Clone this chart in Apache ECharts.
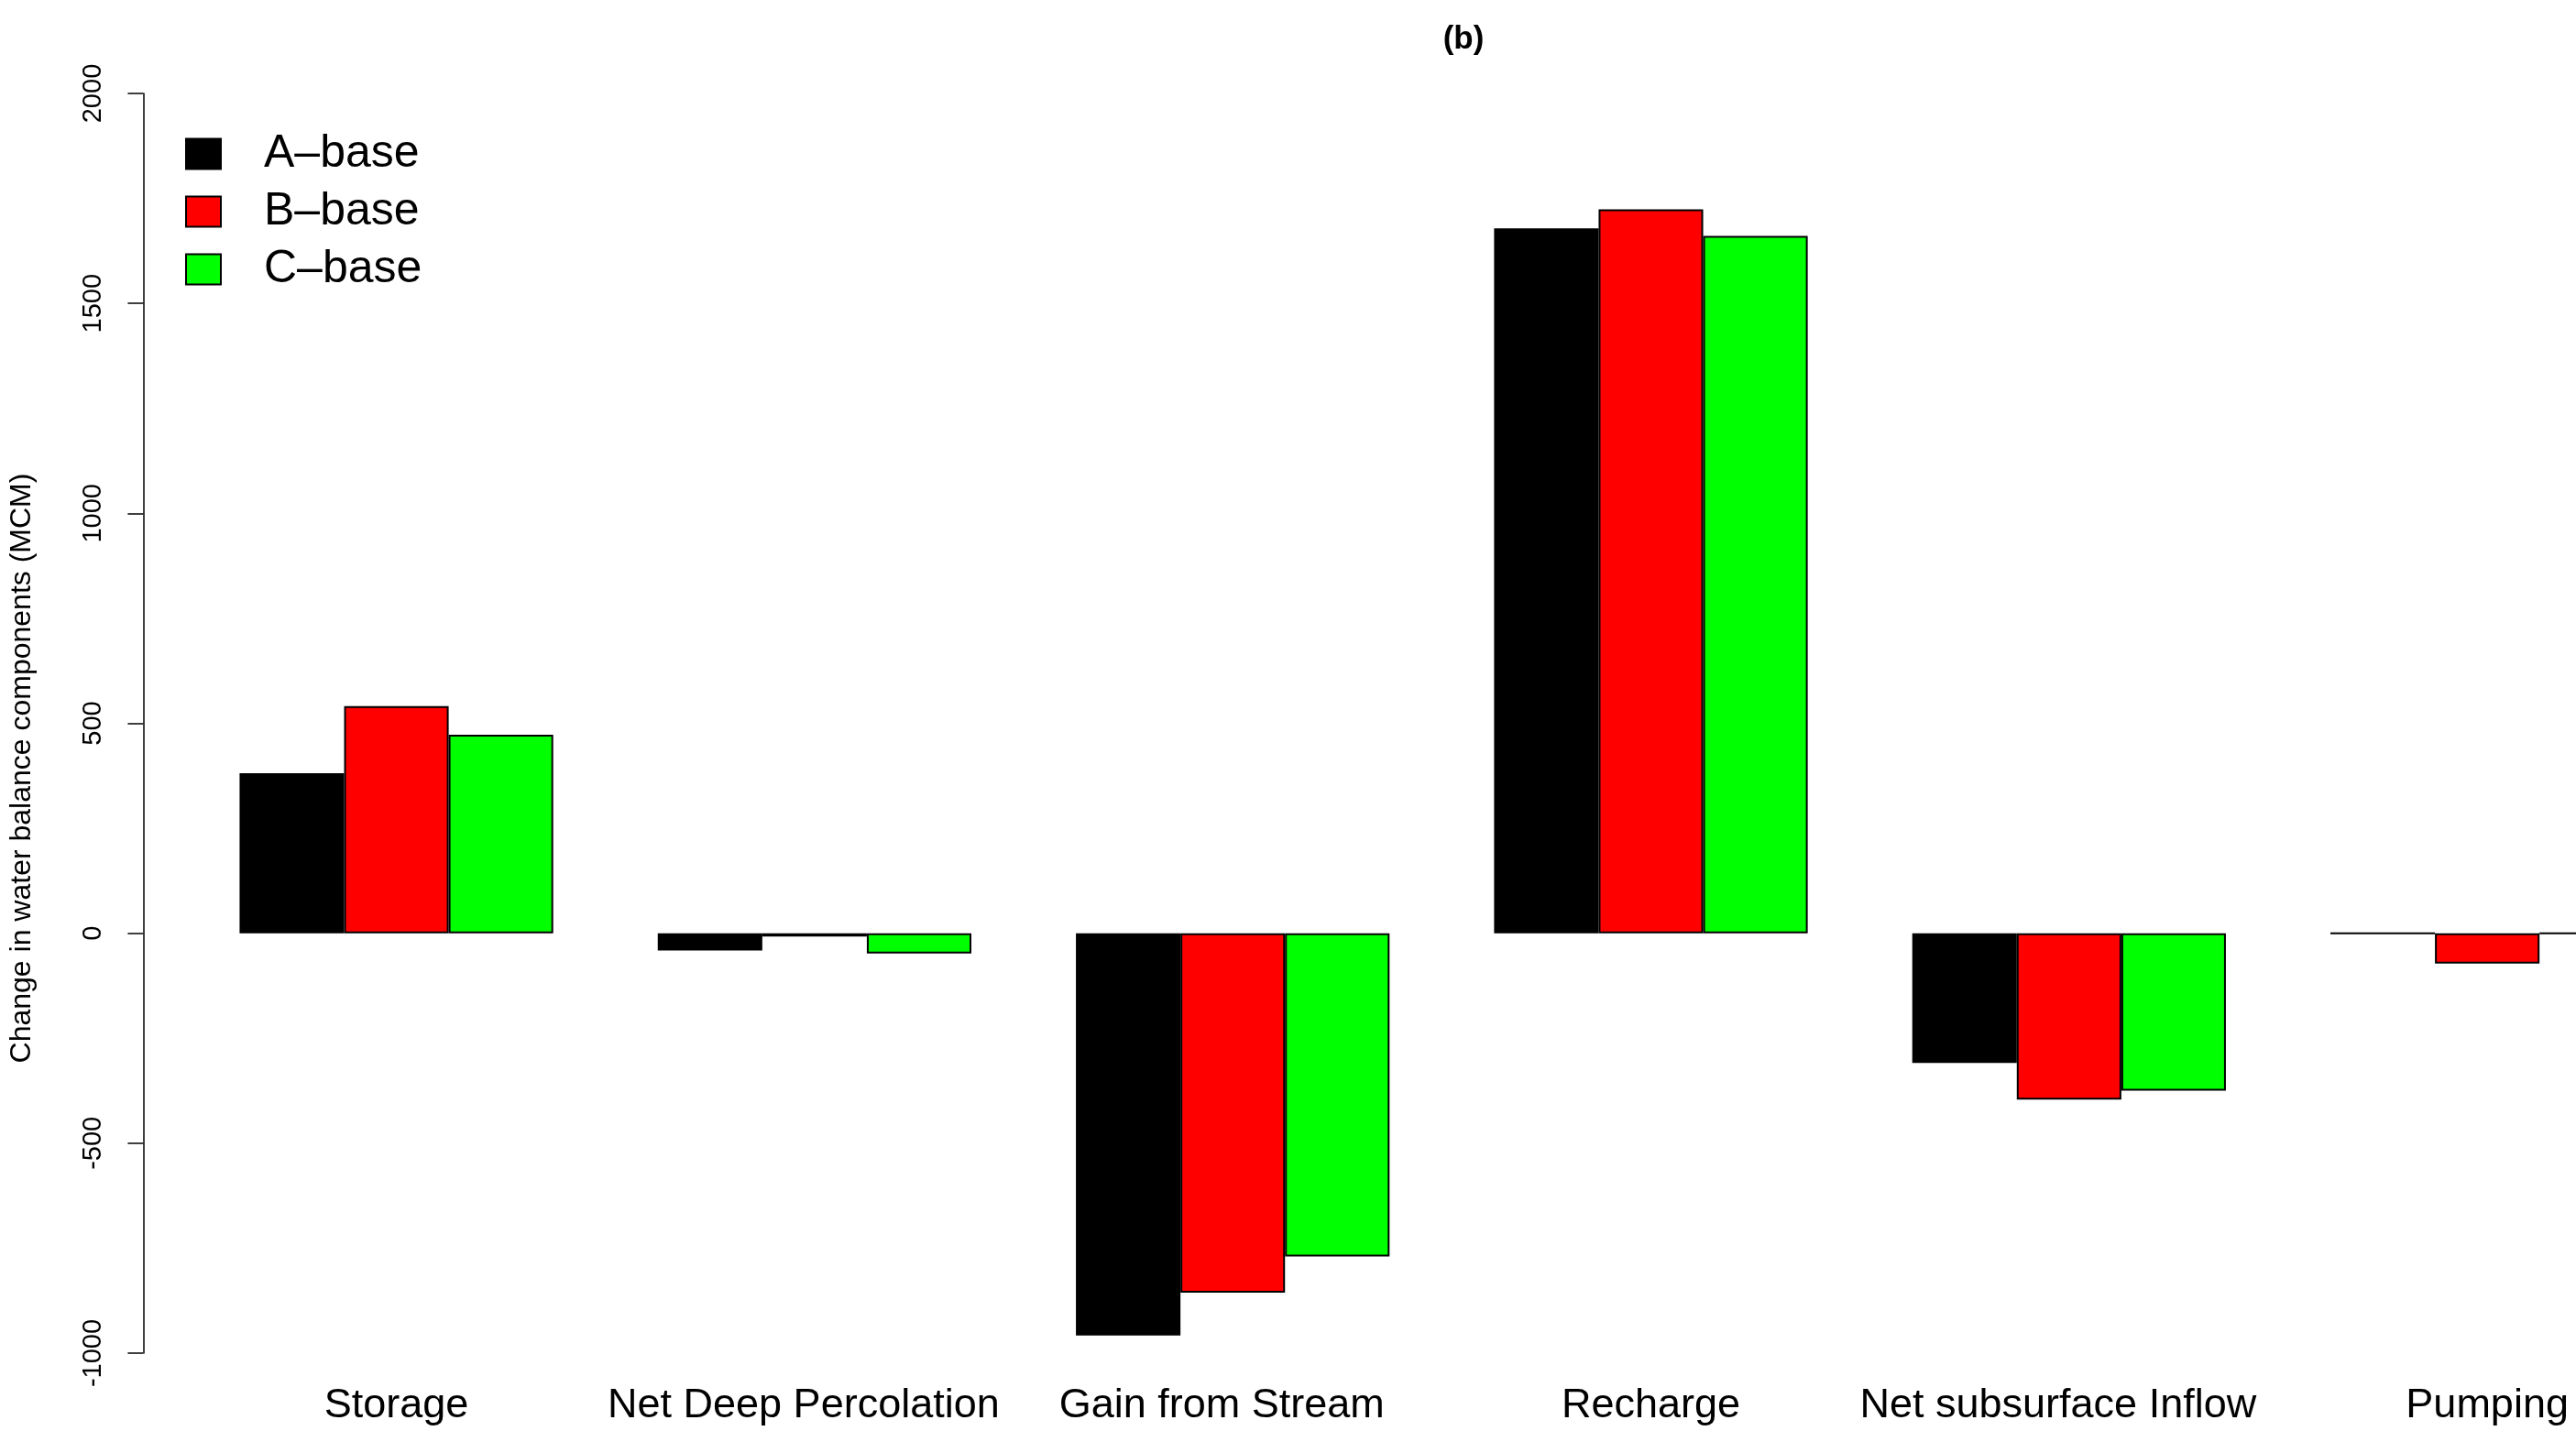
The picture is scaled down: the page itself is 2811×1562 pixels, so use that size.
<!DOCTYPE html>
<html>
<head>
<meta charset="utf-8">
<title>Change in water balance components</title>
<script src="https://cdn.jsdelivr.net/npm/echarts@6/dist/echarts.min.js"></script>
<style>
  html, body { margin: 0; padding: 0; background: #ffffff; }
  #chart { width: 2811px; height: 1562px; }
</style>
</head>
<body>
<div id="chart"></div>
<script>
// Water balance components (MCM), change relative to the base scenario
const categories = ['Storage', 'Net Deep Percolation', 'Gain from Stream', 'Recharge', 'Net subsurface Inflow', 'Pumping'];
const seriesNames = ['A\u2013base', 'B\u2013base', 'C\u2013base'];
const aBase = [381, -41, -958, 1679, -309, 0];
const bBase = [541, -8, -856, 1724, -396, -72];
const cBase = [473, -48, -770, 1661, -375, 0];
const yTicks = { min: -1000, max: 2000, interval: 500 };

const FONT = "'Liberation Sans', Arial, Helvetica, sans-serif";
const colors = ['#000000', '#ff0000', '#00ff00'];
const values = [aBase, bBase, cBase];

const chart = echarts.init(document.getElementById('chart'), null, { renderer: 'canvas' });

const series = seriesNames.map((name, i) => ({
  name: name,
  type: 'bar',
  data: values[i],
  barGap: '0%',
  barCategoryGap: '25%',
  itemStyle: { color: colors[i], borderColor: '#000000', borderWidth: 2 },
  emphasis: { disabled: true },
  animation: false
}));

chart.setOption({
  animation: false,
  backgroundColor: '#ffffff',
  textStyle: { fontFamily: FONT },
  title: {
    text: '(b)',
    left: 1597,
    top: 26,
    padding: 0,
    textAlign: 'center',
    textStyle: { fontFamily: FONT, fontWeight: 'bold', fontSize: 35, color: '#000000' }
  },
  legend: {
    orient: 'vertical',
    left: 202,
    top: 143,
    padding: 0,
    itemWidth: 38,
    itemHeight: 33,
    itemGap: 13,
    icon: 'rect',
    selectedMode: false,
    textStyle: { fontFamily: FONT, fontSize: 50, lineHeight: 49, color: '#000000', padding: [0, 0, 0, 42] },
    data: seriesNames
  },
  grid: {
    left: 204.4,
    top: 102,
    width: 2737.9,
    height: 1375,
    containLabel: false,
    outerBoundsMode: 'none'
  },
  xAxis: {
    type: 'category',
    data: categories,
    axisLine: { show: false },
    axisTick: { show: false },
    splitLine: { show: false },
    axisLabel: {
      interval: 0,
      margin: 35,
      fontFamily: FONT,
      fontSize: 45,
      color: '#000000',
      // longer names sit slightly left of the group centre
      formatter: (v) => (v.length > 12 ? '{long|' + v + '}' : v),
      rich: {
        long: { fontFamily: FONT, fontSize: 45, color: '#000000', padding: [0, 24, 0, 0] }
      }
    }
  },
  yAxis: {
    type: 'value',
    min: yTicks.min,
    max: yTicks.max,
    interval: yTicks.interval,
    offset: 48,
    name: 'Change in water balance components (MCM)',
    nameLocation: 'middle',
    nameGap: 116,
    nameRotate: 90,
    nameTextStyle: { fontFamily: FONT, fontSize: 32, color: '#000000', padding: [0, 98, 0, 0] },
    axisLine: { show: true, lineStyle: { color: '#000000', width: 1.5 } },
    axisTick: { show: true, length: 17, lineStyle: { color: '#000000', width: 1.5 } },
    splitLine: { show: false },
    axisLabel: {
      rotate: 90,
      margin: 40,
      fontFamily: FONT,
      fontSize: 29,
      color: '#000000',
      formatter: (v) => String(v)
    }
  },
  series: series
});
</script>
</body>
</html>
